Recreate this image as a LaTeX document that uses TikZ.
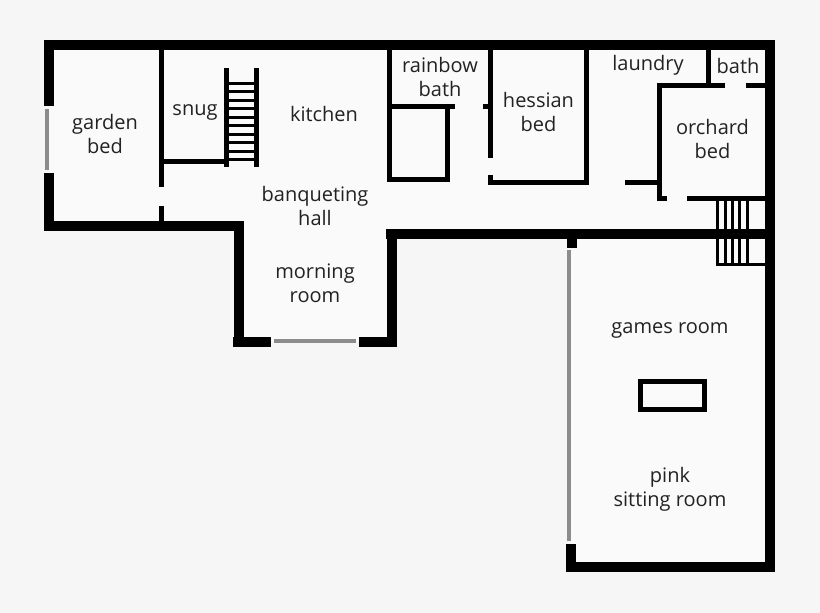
\documentclass[tikz,border=0pt]{standalone}
\usepackage{fontspec}
\setmainfont{Open Sans}
\definecolor{papertone}{HTML}{F6F6F6}
\definecolor{floortone}{HTML}{FAFAFA}
\definecolor{panetone}{HTML}{8C8C8C}
\definecolor{inktone}{HTML}{222222}
\tikzset{
	wall/.style={line width=10pt, black},
	partition/.style={line width=5pt, black},
	tread/.style={line width=3pt, black},
	glazing/.style={line width=3.2pt, panetone},
	room/.style={align=center, text=inktone, inner sep=0pt, font=\fontsize{20}{24}\selectfont},
}
\begin{document}
\begin{tikzpicture}[x=1pt, y=-1pt]
	\useasboundingbox[fill=papertone] (0,0) rectangle (820,613);
	\fill[floortone] (49,45) -- (770,45) -- (770,567) -- (571,567) -- (571,234) -- (391,234) -- (391,342) -- (238,342) -- (238,225) -- (49,225) -- cycle;

	\draw[glazing] (47,109) -- (47,170);
	\draw[glazing] (274,341) -- (356,341);
	\draw[glazing] (569,250) -- (569,541);

	\draw[wall] (44,45) -- (775,45);
	\draw[wall] (49,40) -- (49,106);
	\draw[wall] (49,173) -- (49,230);
	\draw[wall] (44,225.5) -- (243.5,225.5);
	\draw[wall] (238.5,221) -- (238.5,347);
	\draw[wall] (233,342) -- (271,342);
	\draw[wall] (359,342) -- (396.5,342);
	\draw[wall] (391.5,229) -- (391.5,347);
	\draw[wall] (386,234) -- (775,234);
	\draw[wall] (770,40) -- (770,572);
	\draw[wall] (566,567) -- (775,567);
	\draw[wall] (571,544) -- (571,572);
	\draw[wall] (571.5,239) -- (571.5,248);

	\draw[partition] (161.5,50) -- (161.5,186.5);
	\draw[partition] (161.5,206) -- (161.5,221);
	\draw[partition] (164,161) -- (226,161);
	\draw[partition] (226.5,68) -- (226.5,167);
	\draw[partition] (256.5,68) -- (256.5,167);
	\foreach \y in {83,91.5,100,108.5,117,125.5,134,142.5,151,159}
		\draw[tread] (229,\y) -- (254,\y);

	\draw[partition] (389,50) -- (389,181.5);
	\draw[partition] (386.5,106.8) -- (455,106.8);
	\draw[partition] (447.3,107) -- (447.3,181.5);
	\draw[partition] (387,179) -- (449.8,179);

	\draw[partition] (490.5,50) -- (490.5,158);
	\draw[partition] (483.3,106.8) -- (490.5,106.8);
	\draw[partition] (490.5,175.3) -- (490.5,185);
	\draw[partition] (488.3,182) -- (589,182);
	\draw[partition] (586.5,50) -- (586.5,185);

	\draw[partition] (708.5,50) -- (708.5,87.5);
	\draw[partition] (656.5,85) -- (725,85);
	\draw[partition] (746,85) -- (765,85);
	\draw[partition] (659,85) -- (659,200.8);
	\draw[partition] (625,182) -- (659,182);
	\draw[partition] (656.5,198.5) -- (666.7,198.5);
	\draw[partition] (687.3,198.5) -- (765,198.5);

	\foreach \x in {717.4,725,732.3,739.5,747.2}
		\draw[tread] (\x,198) -- (\x,265.7);
	\draw[tread] (715.9,264.2) -- (765,264.2);

	\draw[line width=4.5pt] (640.5,381.5) rectangle (704.5,409.7);

	\node[room] (gardenbed) at (105,134) {garden\\bed};
	\node[room] (snug) at (195,112) {snug};
	\node[room] (kitchen) at (324,114) {kitchen};
	\node[room] (rainbowbath) at (440,77) {rainbow\\bath};
	\node[room] (hessianbed) at (538.5,112) {hessian\\bed};
	\node[room] (laundry) at (648,65) {laundry};
	\node[room] (bath) at (738,66) {bath};
	\node[room] (orchardbed) at (712.5,139) {orchard\\bed};
	\node[room] (banquetinghall) at (315,206) {banqueting\\hall};
	\node[room] (morningroom) at (315,283.5) {morning\\room};
	\node[room] (gamesroom) at (670,330) {games room};
	\node[room] (pinkroom) at (670,489) {pink\\sitting room};
\end{tikzpicture}
\end{document}
